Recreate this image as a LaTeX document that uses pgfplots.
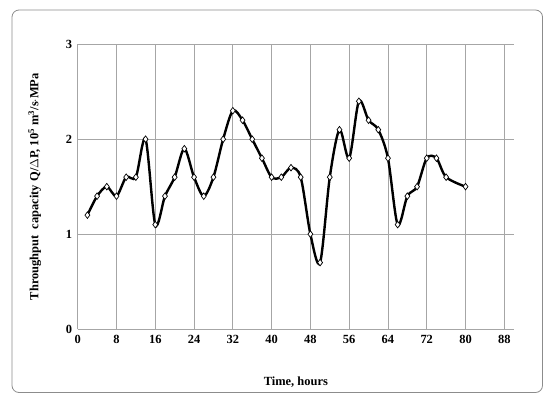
\documentclass[border=0pt]{standalone}
\usepackage{pgfplots}
\pgfplotsset{compat=1.18}
\usepackage{fontspec}
\setmainfont{Liberation Serif}
\definecolor{gridgray}{HTML}{A6A6A6}
\definecolor{framegray}{HTML}{8C8C8C}
\begin{document}
\begin{tikzpicture}[x=1bp,y=1bp]
  \useasboundingbox (0,0) rectangle (550,402);
  \draw[framegray, line width=0.8bp, rounded corners=7bp] (12,9.5) rectangle (542.5,392);
  \begin{axis}[
    at={(77.7bp,73bp)}, anchor=origin,
    scale only axis,
    width=436.3bp, height=284.7bp,
    xmin=0, xmax=90, ymin=0, ymax=3,
    xtick={0,8,...,88}, ytick={0,1,2,3},
    axis x line*=bottom, axis y line*=left,
    axis line style={gridgray, line width=0.8bp, -},
    grid=major,
    major grid style={gridgray, line width=0.8bp},
    major tick length=0pt,
    tick label style={font=\fontsize{12.5}{14}\selectfont\bfseries},
    /pgf/number format/assume math mode=true,
    xticklabel style={yshift=-3bp},
    yticklabel style={xshift=-2bp},
    xlabel={Time,  hours},
    ylabel={Throughput~~capacity Q/$\Delta$P, 10\textsuperscript{5} m\textsuperscript{3}/s$\cdot$MPa},
    label style={font=\fontsize{12.5}{14}\selectfont\bfseries},
    xlabel style={at={(axis description cs:0.5,0)}, anchor=center, yshift=-53bp},
    ylabel style={at={(axis description cs:0,0.5)}, anchor=center, yshift=43bp},
    clip=false,
  ]
    \addplot[black, line width=2.4bp, smooth, tension=0.5,
      mark=diamond*, mark size=3.3bp,
      mark options={fill=white, draw=black, line width=0.7bp, solid}]
      coordinates {
      (2,1.2) (4,1.4) (6,1.5) (8,1.4) (10,1.6) (12,1.6) (14,2.0) (16,1.1)
      (18,1.4) (20,1.6) (22,1.9) (24,1.6) (26,1.4) (28,1.6) (30,2.0) (32,2.3)
      (34,2.2) (36,2.0) (38,1.8) (40,1.6) (42,1.6) (44,1.7) (46,1.6) (48,1.0)
      (50,0.7) (52,1.6) (54,2.1) (56,1.8) (58,2.4) (60,2.2) (62,2.1) (64,1.8)
      (66,1.1) (68,1.4) (70,1.5) (72,1.8) (74,1.8) (76,1.6) (80,1.5)
    };
  \end{axis}
\end{tikzpicture}
\end{document}
